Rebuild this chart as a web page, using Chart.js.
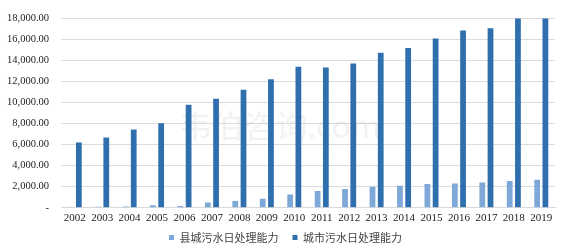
<!DOCTYPE html>
<html><head><meta charset="utf-8">
<script src="https://cdn.jsdelivr.net/npm/chart.js@4"></script>
<style>html,body{margin:0;padding:0;background:#fff;}#wrap{width:564px;height:245px;position:relative;}</style>
</head><body><div id="wrap"><canvas id="c"></canvas></div>
<script>
const years = ["2002","2003","2004","2005","2006","2007","2008","2009","2010","2011","2012","2013","2014","2015","2016","2017","2018","2019"];
const countyCapacity = [80,90,130,250,180,500,650,850,1260,1600,1780,2000,2090,2250,2310,2400,2540,2660];
const cityCapacity = [6200,6680,7430,8030,9800,10350,11210,12220,13400,13330,13710,14730,15170,16070,16830,17050,18000,18000];
const seriesNames = ["县城污水日处理能力","城市污水日处理能力"];
const yTicks = [0,2000,4000,6000,8000,10000,12000,14000,16000,18000];

const fmt = v => v === 0 ? "-" : v.toLocaleString("en-US",{minimumFractionDigits:2,maximumFractionDigits:2});
const SERIF = "'Liberation Serif', 'Times New Roman', 'DejaVu Serif', serif";

const watermark = {
  id:'watermark',
  beforeDatasetsDraw(chart){
    const ctx = chart.ctx; ctx.save();
    ctx.fillStyle='rgba(150,150,150,0.12)';
    ctx.font='32px "Noto Sans CJK SC"';
    ctx.textAlign='center'; ctx.textBaseline='middle';
    ctx.fillText('韦伯咨询.com', 280, 126);
    ctx.restore();
  }
};
const legendShift = {
  id:'legendShift',
  afterLayout(chart){ if(chart.legend){ chart.legend.left += 8; chart.legend.right += 8; } }
};

new Chart(document.getElementById('c'), {
  type:'bar',
  data:{ labels: years, datasets:[
    {label:seriesNames[0], data:countyCapacity, backgroundColor:'#7ea8d8'},
    {label:seriesNames[1], data:cityCapacity, backgroundColor:'#2f6fae'}
  ]},
  options:{
    responsive:true, maintainAspectRatio:false, animation:false,
    layout:{padding:{left:0,right:9,top:17,bottom:-8}},
    datasets:{bar:{categoryPercentage:0.6,barPercentage:0.7}},
    plugins:{
      legend:{position:'bottom',labels:{
        usePointStyle:true,pointStyle:'rect',boxWidth:5,boxHeight:5,padding:3,color:'#444',
        font:{family:"'Noto Sans CJK SC'",size:11},
        generateLabels(chart){
          const items = Chart.defaults.plugins.legend.labels.generateLabels(chart);
          items[0].text = items[0].text + '\u3000';
          return items;
        }}},
      tooltip:{enabled:false}
    },
    scales:{
      x:{grid:{display:false,drawTicks:false},border:{color:'#d9d9d9'},
         ticks:{color:'#222',padding:4,maxRotation:0,minRotation:0,autoSkip:false,font:{family:SERIF,size:11}}},
      y:{min:0,max:18000,
         afterBuildTicks(s){ s.ticks = yTicks.map(v=>({value:v})); },
         afterFit(s){ s.width = 61; },
         grid:{color:'#dcdcdc',drawTicks:false},border:{display:false},
         ticks:{color:'#222',padding:12,font:{family:SERIF,size:10.5},callback:v=>fmt(v)}}
    }
  },
  plugins:[watermark, legendShift]
});
</script></body></html>
